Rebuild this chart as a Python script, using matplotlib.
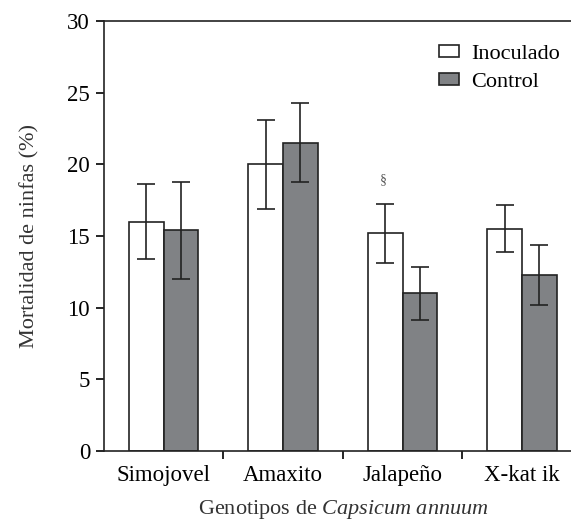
import numpy as np
import matplotlib
matplotlib.use("Agg")
import matplotlib.pyplot as plt

plt.rcParams['font.family'] = ['Liberation Serif', 'DejaVu Serif']
plt.rcParams['mathtext.fontset'] = 'custom'
plt.rcParams['mathtext.it'] = 'Liberation Serif:italic'
plt.rcParams['mathtext.rm'] = 'Liberation Serif'

genotipos = ["Simojovel", "Amaxito", "Jalapeño", "X-kat ik"]
inoculado = [16.0, 20.0, 15.2, 15.5]
inoculado_err = [2.6, 3.1, 2.05, 1.65]
control = [15.4, 21.5, 11.0, 12.3]
control_err = [3.4, 2.75, 1.85, 2.1]

fig = plt.figure(figsize=(5.71, 5.26), dpi=100)
ax = fig.add_axes([0.182, 0.1426, 0.837, 0.8175])

x = np.arange(len(genotipos))
w = 0.29
ax.bar(x - w/2, inoculado, w, color="white", edgecolor="#222222", linewidth=1.2,
       yerr=inoculado_err, capsize=6.5, error_kw=dict(ecolor="#222222", elinewidth=1.2, capthick=1.2),
       label="Inoculado")
ax.bar(x + w/2, control, w, color="#808285", edgecolor="#222222", linewidth=1.2,
       yerr=control_err, capsize=6.5, error_kw=dict(ecolor="#222222", elinewidth=1.2, capthick=1.2),
       label="Control")

# significance mark
ax.text(x[2] - w/2 - 0.02, inoculado[2] + inoculado_err[2] + 1.2, "§", ha="center", va="bottom",
        fontsize=10, color="#555555")

ax.set_xlim(-0.5, 3.5)
ax.set_ylim(0, 30)
ax.set_yticks(range(0, 31, 5))
ax.set_xticks(x)
ax.set_xticklabels(genotipos)
ax.set_xticks([0.5, 1.5, 2.5], minor=True)
ax.tick_params(axis="x", which="major", length=0, pad=10, labelsize=16.5)
ax.tick_params(axis="x", which="minor", length=6, width=1.2, direction="out")
ax.tick_params(axis="y", length=6, width=1.2, direction="out", labelsize=16.5, pad=4)

ax.spines["right"].set_visible(False)
for s in ["left", "bottom", "top"]:
    ax.spines[s].set_linewidth(1.2)
    ax.spines[s].set_color("#222222")

ax.set_ylabel("Mortalidad de ninfas (%)", fontsize=16, labelpad=20, color="#333333")
ax.set_xlabel("Genotipos de $\\mathit{Capsicum\\ annuum}$", fontsize=16, labelpad=9, color="#333333")

ax.legend(loc="upper left", bbox_to_anchor=(0.66, 0.99), frameon=False, fontsize=16,
          handlelength=0.9, handleheight=0.45, handletextpad=0.55, labelspacing=0.4)

fig.savefig("out.png", dpi=100)
